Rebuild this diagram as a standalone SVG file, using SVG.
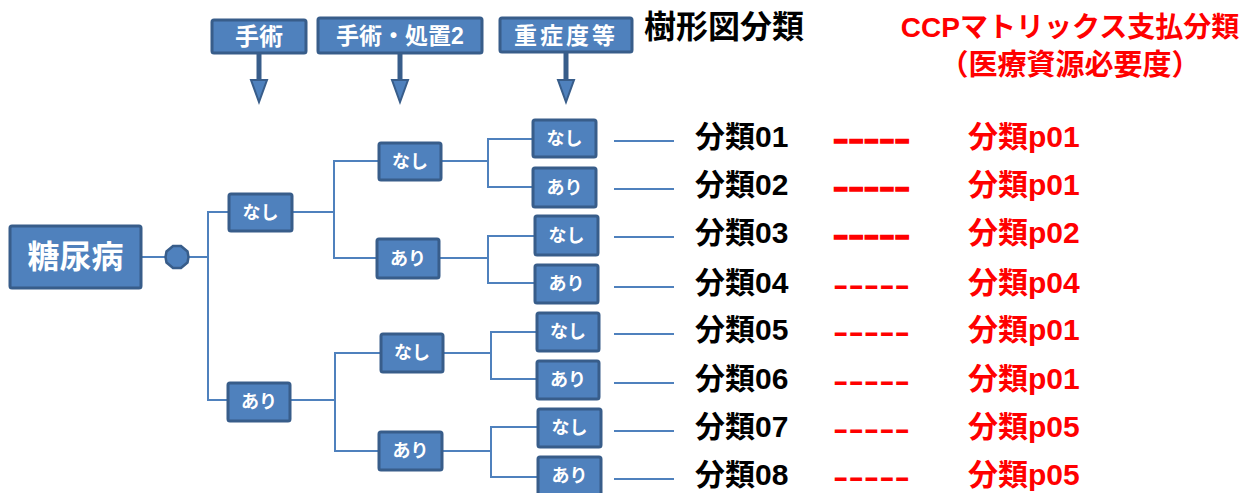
<svg xmlns="http://www.w3.org/2000/svg" width="1253" height="493" viewBox="0 0 1253 493">
<style>
.box{fill:#4F81BD;stroke:#385D8A;stroke-width:3}
.wt{fill:#fff;font-family:"Liberation Sans","Noto Sans CJK JP",sans-serif;font-weight:bold;text-anchor:middle}
.ln{stroke:#4F81BD;stroke-width:2;fill:none}
.lbl{font-family:"Liberation Sans","Noto Sans CJK JP",sans-serif;font-weight:bold;font-size:30px}
.blk{fill:#000}
.red{fill:#FF0000}
.stem{stroke:#385D8A;stroke-width:5}
.head{fill:#4F81BD;stroke:#385D8A;stroke-width:2}
.thick{stroke:#FF0000;stroke-width:1.3}
</style>
<rect width="1253" height="493" fill="#fff"/>

<g id="headers">
  <g id="h-shujutsu">
    <rect class="box" x="212" y="20" width="94" height="33" rx="2"/>
    <text class="wt" x="259" y="45" font-size="24">手術</text>
    <line class="stem" x1="259" y1="53" x2="259" y2="82"/>
    <polygon class="head" points="251,80 267,80 259,102"/>
  </g>
  <g id="h-shochi2">
    <rect class="box" x="318" y="18" width="164" height="35" rx="2"/>
    <text class="wt" x="400" y="44" font-size="23">手術・処置2</text>
    <line class="stem" x1="400" y1="53" x2="400" y2="82"/>
    <polygon class="head" points="392,80 408,80 400,102"/>
  </g>
  <g id="h-juusho">
    <rect class="box" x="500" y="18" width="132" height="34" rx="2"/>
    <text class="wt" x="566" y="44" font-size="23" letter-spacing="3">重症度等</text>
    <line class="stem" x1="566" y1="52" x2="566" y2="82"/>
    <polygon class="head" points="558,80 574,80 566,102"/>
  </g>
</g>

<g id="titles">
  <text class="lbl blk" x="644" y="38" style="font-size:32px">樹形図分類</text>
  <text class="lbl red" x="1070" y="37" text-anchor="middle" style="font-size:28px">CCPマトリックス支払分類</text>
  <text class="lbl red" x="1070" y="75" text-anchor="middle" style="font-size:29px">（医療資源必要度）</text>
</g>

<g id="connectors">
  <line class="ln" x1="141" y1="257" x2="166" y2="257"/>
  <line class="ln" x1="188" y1="257" x2="208" y2="257"/>
  <polyline class="ln" points="229,212 208,212 208,400 228,400"/>
  <line class="ln" x1="292" y1="212" x2="334" y2="212"/>
  <polyline class="ln" points="379,161 334,161 334,258 377,258"/>
  <line class="ln" x1="441" y1="161" x2="488" y2="161"/>
  <polyline class="ln" points="533,139 488,139 488,187 533,187"/>
  <line class="ln" x1="439" y1="258" x2="488" y2="258"/>
  <polyline class="ln" points="535,236 488,236 488,283 535,283"/>
  <line class="ln" x1="290" y1="400" x2="335" y2="400"/>
  <polyline class="ln" points="381,353 335,353 335,451 379,451"/>
  <line class="ln" x1="443" y1="353" x2="491" y2="353"/>
  <polyline class="ln" points="537,332 491,332 491,379 537,379"/>
  <line class="ln" x1="442" y1="451" x2="491" y2="451"/>
  <polyline class="ln" points="538,427 491,427 491,477 538,477"/>
  <line class="ln" x1="614" y1="141" x2="674" y2="141"/>
  <line class="ln" x1="614" y1="189" x2="674" y2="189"/>
  <line class="ln" x1="614" y1="237" x2="674" y2="237"/>
  <line class="ln" x1="614" y1="287" x2="674" y2="287"/>
  <line class="ln" x1="614" y1="334" x2="674" y2="334"/>
  <line class="ln" x1="614" y1="383" x2="674" y2="383"/>
  <line class="ln" x1="614" y1="431" x2="674" y2="431"/>
  <line class="ln" x1="614" y1="479" x2="674" y2="479"/>
</g>

<g id="root">
  <rect class="box" x="10" y="226" width="131" height="62" rx="2"/>
  <text class="wt" x="75.5" y="268" font-size="32">糖尿病</text>
</g>
<g id="junction">
  <polygon points="173,246 181,246 187.5,251.5 188.5,257 187.5,262.5 181,268 173,268 166.5,262.5 165.5,257 166.5,251.5" fill="#4F81BD" stroke="#385D8A" stroke-width="2.5"/>
</g>

<g id="n1-nashi"><rect class="box" x="229" y="194" width="63" height="37" rx="2"/><text class="wt" x="260.5" y="219" font-size="18">なし</text></g>
<g id="n1-ari"><rect class="box" x="228" y="383" width="62" height="38" rx="2"/><text class="wt" x="259" y="408" font-size="18">あり</text></g>

<g id="n2-nashi-nashi"><rect class="box" x="379" y="143" width="62" height="37" rx="2"/><text class="wt" x="410" y="168" font-size="18">なし</text></g>
<g id="n2-nashi-ari"><rect class="box" x="377" y="239" width="62" height="39" rx="2"/><text class="wt" x="408" y="265" font-size="18">あり</text></g>
<g id="n2-ari-nashi"><rect class="box" x="381" y="334" width="62" height="38" rx="2"/><text class="wt" x="412" y="359" font-size="18">なし</text></g>
<g id="n2-ari-ari"><rect class="box" x="379" y="432" width="63" height="38" rx="2"/><text class="wt" x="410.5" y="457" font-size="18">あり</text></g>

<g id="n3-1"><rect class="box" x="533" y="120" width="63" height="37" rx="2"/><text class="wt" x="564.5" y="145" font-size="18">なし</text></g>
<g id="n3-2"><rect class="box" x="533" y="168" width="63" height="39" rx="2"/><text class="wt" x="564.5" y="194" font-size="18">あり</text></g>
<g id="n3-3"><rect class="box" x="535" y="216" width="63" height="39" rx="2"/><text class="wt" x="566.5" y="242" font-size="18">なし</text></g>
<g id="n3-4"><rect class="box" x="535" y="265" width="63" height="38" rx="2"/><text class="wt" x="566.5" y="290" font-size="18">あり</text></g>
<g id="n3-5"><rect class="box" x="537" y="313" width="62" height="38" rx="2"/><text class="wt" x="568" y="338" font-size="18">なし</text></g>
<g id="n3-6"><rect class="box" x="537" y="361" width="62" height="38" rx="2"/><text class="wt" x="568" y="386" font-size="18">あり</text></g>
<g id="n3-7"><rect class="box" x="538" y="409" width="63" height="38" rx="2"/><text class="wt" x="569.5" y="434" font-size="18">なし</text></g>
<g id="n3-8"><rect class="box" x="538" y="457" width="63" height="38" rx="2"/><text class="wt" x="569.5" y="482" font-size="18">あり</text></g>

<g id="results">
  <text class="lbl blk" x="695" y="147">分類01</text>
  <text class="lbl blk" x="695" y="195">分類02</text>
  <text class="lbl blk" x="695" y="243">分類03</text>
  <text class="lbl blk" x="695" y="293">分類04</text>
  <text class="lbl blk" x="695" y="340">分類05</text>
  <text class="lbl blk" x="695" y="389">分類06</text>
  <text class="lbl blk" x="695" y="437">分類07</text>
  <text class="lbl blk" x="695" y="485">分類08</text>

  <text class="lbl red thick" x="833" y="149" textLength="77" lengthAdjust="spacingAndGlyphs">-----</text>
  <text class="lbl red thick" x="833" y="197" textLength="77" lengthAdjust="spacingAndGlyphs">-----</text>
  <text class="lbl red thick" x="833" y="245" textLength="77" lengthAdjust="spacingAndGlyphs">-----</text>
  <text class="lbl red" x="833" y="295" textLength="77" lengthAdjust="spacingAndGlyphs">-----</text>
  <text class="lbl red" x="833" y="342" textLength="77" lengthAdjust="spacingAndGlyphs">-----</text>
  <text class="lbl red" x="833" y="391" textLength="77" lengthAdjust="spacingAndGlyphs">-----</text>
  <text class="lbl red" x="833" y="439" textLength="77" lengthAdjust="spacingAndGlyphs">-----</text>
  <text class="lbl red" x="833" y="487" textLength="77" lengthAdjust="spacingAndGlyphs">-----</text>

  <text class="lbl red" x="968" y="147">分類p01</text>
  <text class="lbl red" x="968" y="195">分類p01</text>
  <text class="lbl red" x="968" y="243">分類p02</text>
  <text class="lbl red" x="968" y="293">分類p04</text>
  <text class="lbl red" x="968" y="340">分類p01</text>
  <text class="lbl red" x="968" y="389">分類p01</text>
  <text class="lbl red" x="968" y="437">分類p05</text>
  <text class="lbl red" x="968" y="485">分類p05</text>
</g>
</svg>
